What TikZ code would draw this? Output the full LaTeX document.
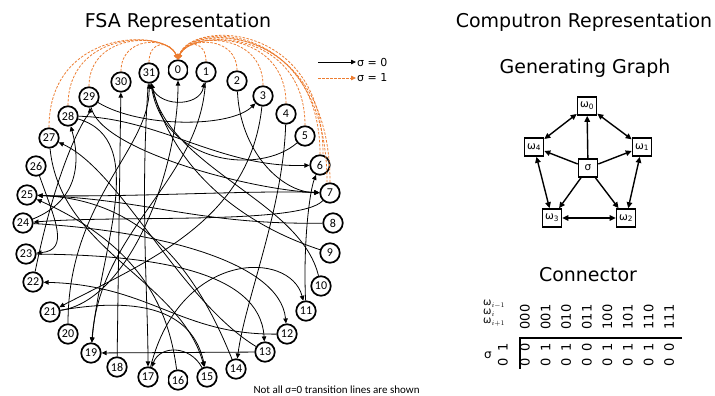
\documentclass[tikz,border=0pt]{standalone}
\usepackage{fontspec}
\setmainfont{DejaVu Sans}
\newfontfamily\calfont{Carlito}
\usetikzlibrary{arrows.meta,calc}
\definecolor{porange}{RGB}{237,125,49}
\begin{document}
\begin{tikzpicture}[x=1pt,y=-1pt,
  st/.style={circle,draw,line width=1.7pt,minimum size=19.5pt,inner sep=0pt,fill=white,font=\calfont\fontsize{12}{12}\selectfont},
  fe/.style={-{Triangle[length=5pt,width=4.5pt]},line width=0.8pt},
  oe/.style={-{Triangle[length=5pt,width=4.5pt]},line width=0.8pt,draw=porange,dash pattern=on 2.5pt off 1.5pt},
  gb/.style={draw,line width=1.6pt,minimum width=19pt,minimum height=18pt,inner sep=1pt,fill=white,font=\fontsize{10.5}{10.5}\selectfont},
  ge/.style={-{Triangle[length=6pt,width=5.5pt]},line width=1.4pt},
  gd/.style={{Triangle[length=6pt,width=5.5pt]}-{Triangle[length=6pt,width=5.5pt]},line width=1.4pt},
  ttl/.style={font=\fontsize{19}{19}\selectfont},
  dig/.style={rotate=90,font=\fontsize{13}{13}\selectfont,inner sep=0pt},
  gap/.style={white,line width=1.5pt}]
\useasboundingbox (0,0) rectangle (715,396);
\fill[white] (0,0) rectangle (715,396);
% titles
\node[ttl] (t1) at (178,22) {FSA Representation};
\node[ttl] (t2) at (584,22) {Computron Representation};
\node[ttl] (t3) at (585,68) {Generating Graph};
\node[ttl] (t4) at (588,275) {Connector};
% states
\foreach \i/\x/\y in {0/178/70,1/206/72,2/237/81,3/263/96,4/286/114,5/305/136,6/320/165,7/330/193,
  8/333/223,9/330/253,10/321/286,11/306/311,12/287/334,13/265/352,14/236/369,15/207/377,
  16/178/380,17/148/377,18/117/367,19/91/353,20/68/334,21/50/312,22/33/282,23/26/254,
  24/23/223,25/27/195,26/36/166,27/49/138,28/68/116,29/89/97,30/121/82,31/149/73}
  \node[st] (n\i) at (\x,\y) {\i};
% small breaks in the rings of 0 and 16
\foreach \s in {n0,n16} {
  \draw[gap] ([yshift=-2pt]\s.west) -- ([yshift=2pt]\s.west);
  \draw[gap] ([yshift=-2pt]\s.east) -- ([yshift=2pt]\s.east);
}
% sigma = 1 transitions
\foreach \k/\c/\b in {27/28/166,28/30/166,29/32/167,30/36/168,31/40/170,1/40/186,2/36/188,3/32/189,4/30/190,5/28/190,6/24/190,7/22/190}
  \draw[oe] (n\k.north) .. controls (n\k.north |- 0,\c) and (\b,\c) .. (n0.north);
\draw[oe] ([xshift=3pt]n6.north) .. controls ([xshift=3pt]n6.north |- 0,20) and (191,20) .. (n0.north);
\draw[oe] ([xshift=-3pt]n7.north) .. controls ([xshift=-3pt]n7.north |- 0,20) and (191,20) .. (n0.north);
% sigma = 0 transitions
\draw[fe] (n31) .. controls (155,108) and (200,108) .. (n1);
\draw[fe] (n21) .. controls (130,300) and (178,170) .. (n0);
\draw[fe] (n1) .. controls (200,180) and (100,230) .. (n19);
\draw[fe] (n2) .. controls (240,150) and (280,192) .. (n7);
\draw[fe] (n3) .. controls (250,220) and (150,260) .. (n21);
\draw[fe] (n4) .. controls (283,210) and (245,300) .. (n14);
\draw[fe] (n5) .. controls (260,175) and (165,165) .. (n31);
\draw[fe] (n7) .. controls (300,225) and (120,215) .. (n24);
\draw[fe] (n8) .. controls (200,225) and (150,200) .. (n25);
\draw[fe] (n9) .. controls (230,220) and (170,160) .. (n31);
\draw[fe] (n10) .. controls (300,200) and (170,170) .. (n31);
\draw[fe] (n11) .. controls (303,240) and (310,190) .. (n6);
\draw[fe] (n12) .. controls (180,335) and (150,285) .. (n22);
\draw[fe] (n13) -- (n19);
\draw[fe] (n13) .. controls (180,300) and (120,170) .. (n27);
\draw[fe] (n14) .. controls (200,280) and (150,200) .. (n25);
\draw[fe] (n15) .. controls (190,345) and (160,345) .. (n17);
\draw[fe] (n16) .. controls (170,320) and (150,250) .. (n25);
\draw[fe] (n17) .. controls (180,250) and (290,250) .. (n11);
\draw[fe] (n18) -- (n30);
\draw[fe] (n20) .. controls (68,200) and (150,150) .. (n31);
\draw[fe] (n21) .. controls (120,300) and (190,300) .. (n15);
\draw[fe] (n22) .. controls (60,150) and (90,110) .. (n29);
\draw[fe] (n23) .. controls (150,255) and (260,270) .. (n13);
\draw[fe] (n24) .. controls (150,230) and (280,260) .. (n12);
\draw[fe] (n24) .. controls (80,200) and (80,160) .. (n28);
\draw[fe] (n25) .. controls (120,198) and (250,190) .. (n7);
\draw[fe] (n26) .. controls (55,220) and (70,250) .. (n23);
\draw[fe] (n27) .. controls (60,250) and (180,280) .. (n15);
\draw[fe] (n28) .. controls (160,118) and (220,168) .. (n6);
\draw[fe] (n28) .. controls (150,140) and (100,250) .. (n19);
\draw[fe] (n29) .. controls (140,128) and (230,128) .. (n3);
\draw[fe] (n29) .. controls (100,150) and (250,190) .. (n7);
\draw[fe] (n31) .. controls (140,200) and (148,300) .. (n17);
% legend
\coordinate (la) at (318,62); \coordinate (lb) at (356,62);
\coordinate (lc) at (318,78); \coordinate (ld) at (356,78);
\draw[fe] (la) -- (lb);
\draw[oe] (lc) -- (ld);
\node[anchor=west,inner sep=1pt,font=\fontsize{11}{11}\selectfont] (lt1) at (lb) {σ = 0};
\node[anchor=west,inner sep=1pt,font=\fontsize{11}{11}\selectfont] (lt2) at (ld) {σ = 1};
\node[anchor=west,font=\calfont\fontsize{11}{11}\selectfont] (foot) at (250,390) {Not all σ=0 transition lines are shown};
% generating graph
\node[gb] (w0) at (587,106) {ω\textsubscript{0}};
\node[gb] (w4) at (534,147) {ω\textsubscript{4}};
\node[gb] (w1) at (642,147) {ω\textsubscript{1}};
\node[gb] (sg) at (588,168) {σ};
\node[gb] (w3) at (552,218) {ω\textsubscript{3}};
\node[gb] (w2) at (626,218) {ω\textsubscript{2}};
\foreach \t in {w0,w1,w2,w3,w4} \draw[ge] (sg) -- (\t);
\draw[gd] (w0) -- (w1);
\draw[gd] (w1) -- (w2);
\draw[gd] (w2) -- (w3);
\draw[gd] (w3) -- (w4);
\draw[gd] (w4) -- (w0);
% connector table
\node[anchor=west,inner sep=0pt,font=\fontsize{10}{10}\selectfont] (r1) at (483,304) {ω$_{i-1}$};
\node[anchor=west,inner sep=0pt,font=\fontsize{10}{10}\selectfont] (r2) at (483,313) {ω$_{i}$};
\node[anchor=west,inner sep=0pt,font=\fontsize{10}{10}\selectfont] (r3) at (483,322) {ω$_{i+1}$};
\foreach \h [count=\k from 0] in {000,001,010,011,100,101,110,111}
  \node[dig] (h\k) at (525+20.6*\k,317) {\h};
\foreach \v [count=\k from 0] in {0,1,1,0,1,1,1,0}
  \node[dig] (a\k) at (525+20.6*\k,347) {\v};
\foreach \k in {0,...,7}
  \node[dig] (b\k) at (525+20.6*\k,362) {0};
\node[dig] (s1) at (503,347) {1};
\node[dig] (s0) at (503,362) {0};
\node[font=\fontsize{12}{12}\selectfont] (sl) at (488,355) {σ};
\draw[line width=1.2pt] (682,338) -- (520,338) -- (520,369);
\end{tikzpicture}
\end{document}
